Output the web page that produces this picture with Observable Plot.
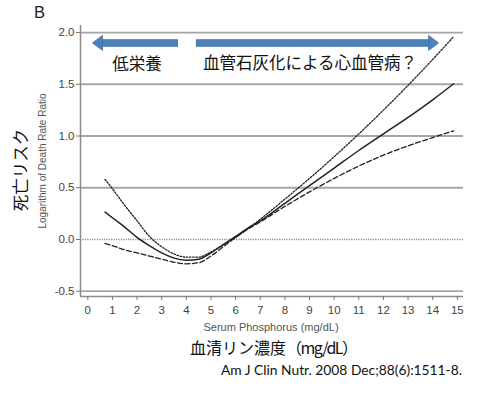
<!DOCTYPE html>
<html>
<head>
<meta charset="utf-8">
<script src="https://cdn.jsdelivr.net/npm/d3@7"></script>
<script src="https://cdn.jsdelivr.net/npm/@observablehq/plot@0.6"></script>
<style>
  html, body { margin: 0; padding: 0; background: #fff; }
  #wrap { position: relative; width: 480px; height: 393px; overflow: hidden; }
  #wrap svg { position: absolute; left: 0; top: 0; }
  .lbl { position: absolute; white-space: nowrap; line-height: 1; }
</style>
</head>
<body>
<div id="wrap">
  <div class="lbl" id="panel" style="left:34px; top:3px; font: 16.5px 'Liberation Sans', Arial, sans-serif; color:#222;">B</div>
  <div class="lbl" id="ylabJa" style="left:20px; top:170px; transform: translate(-50%,-50%) rotate(-90deg); font: 16.5px 'Noto Sans CJK JP', sans-serif; color:#111;">死亡リスク</div>
  <div class="lbl" id="ylabEn" style="left:42px; top:161px; transform: translate(-50%,-50%) rotate(-90deg); font: 10px 'Liberation Sans', Arial, sans-serif; color:#555;">Logarithm of Death Rate Ratio</div>
  <div class="lbl" id="xlabEn" style="left:271px; top:327px; transform: translate(-50%,-50%); font: 11px 'Liberation Sans', Arial, sans-serif; color:#555;">Serum Phosphorus (mg/dL)</div>
  <div class="lbl" id="xlabJa" style="left:190px; top:347px; transform: translateY(-50%); font: 16px 'Noto Sans CJK JP', sans-serif; color:#111;">血清リン濃度<span style="letter-spacing:-1.5px">（mg/dL）</span></div>
  <div class="lbl" id="cite" style="right:18px; top:369px; transform: translateY(-50%); font: 13.8px Lato, 'Open Sans', sans-serif; color:#111;">Am J Clin Nutr. 2008 Dec;88(6):1511-8.</div>
</div>
<script>
// ---- data ----
const phosphorus = [0.7, 1, 1.5, 2, 2.5, 3, 3.5, 4, 4.5, 5, 5.5, 6, 6.5, 7, 8, 9, 10, 11, 12, 13, 14, 14.85];
const estimate   = [0.265, 0.21, 0.12, 0.02, -0.06, -0.13, -0.18, -0.20, -0.19, -0.13, -0.05, 0.03, 0.11, 0.18, 0.35, 0.52, 0.69, 0.86, 1.02, 1.18, 1.35, 1.505];
const upperCI    = [0.58, 0.49, 0.33, 0.18, 0.03, -0.07, -0.14, -0.17, -0.17, -0.12, -0.05, 0.02, 0.105, 0.195, 0.39, 0.59, 0.80, 1.02, 1.25, 1.49, 1.74, 1.96];
const lowerCI    = [-0.04, -0.06, -0.10, -0.13, -0.16, -0.19, -0.22, -0.235, -0.225, -0.16, -0.07, 0.02, 0.10, 0.17, 0.32, 0.46, 0.59, 0.71, 0.815, 0.905, 0.985, 1.05];

const xTicks = d3.range(0, 16);
const yTicks = [-0.5, 0, 0.5, 1.0, 1.5, 2.0];
const gridValues = [-0.5, 0.5, 1.0, 1.5, 2.0];
const zeroLine = [0];
const xDomain = [-0.296, 15.25];
const yDomain = [-0.551, 2.068];

// annotation arrows (data units): tail -> tip
const arrowTail = [3.68, 4.41];
const arrowTip  = [0.19, 14.24];
const arrowY    = [1.9, 1.9];
const noteText  = ["低栄養", "血管石灰化による心血管病？"];
const noteX     = [2.0, 9.02];
const noteY     = [1.69, 1.70];

// ---- build ----
const rows = phosphorus.map((x, i) => ({x, est: estimate[i], up: upperCI[i], lo: lowerCI[i]}));
const arrows = arrowTail.map((t, i) => ({
  left: Math.min(t, arrowTip[i]), right: Math.max(t, arrowTip[i]),
  tip: arrowTip[i], y: arrowY[i], dir: arrowTip[i] < t ? 180 : 0
}));
const notes = noteText.map((t, i) => ({text: t, x: noteX[i], y: noteY[i]}));

// arrowhead symbol: tip at the origin, pointing right
const headSymbol = {
  draw(ctx) {
    ctx.moveTo(0, 0);
    ctx.lineTo(-10, -7.5);
    ctx.lineTo(-10, 7.5);
    ctx.closePath();
  }
};

const blue = "#4f81bd";
const arrowMarks = arrows.flatMap(a => [
  Plot.ruleY([a], {x1: "left", x2: "right", y: "y", stroke: "#41719c", strokeWidth: 7.5,
    insetLeft: a.dir === 180 ? 9 : 0, insetRight: a.dir === 0 ? 9 : 0}),
  Plot.ruleY([a], {x1: "left", x2: "right", y: "y", stroke: blue, strokeWidth: 5.8,
    insetLeft: a.dir === 180 ? 9 : 0.6, insetRight: a.dir === 0 ? 9 : 0.6}),
  Plot.dot([a], {x: "tip", y: "y", symbol: headSymbol, fill: blue, stroke: "#41719c", strokeWidth: 0.8, rotate: a.dir, r: 5})
]);

const chart = Plot.plot({
  width: 480,
  height: 393,
  marginTop: 25,
  marginBottom: 97,
  marginLeft: 80,
  marginRight: 17,
  x: {domain: xDomain},
  y: {domain: yDomain},
  style: {fontFamily: "'Liberation Sans', Arial, sans-serif", fontSize: "11px", color: "#555", background: "transparent"},
  marks: [
    Plot.ruleY(gridValues, {stroke: "#a6a6a6", strokeWidth: 1.8}),
    Plot.ruleY(zeroLine, {stroke: "#8c8c8c", strokeWidth: 1.5, strokeDasharray: "1.2,1.2"}),
    Plot.ruleX([xDomain[0]], {stroke: "#8c8c8c", strokeWidth: 1.5}),
    Plot.ruleY([yDomain[0]], {stroke: "#8c8c8c", strokeWidth: 1.5}),
    Plot.axisX({ticks: xTicks, tickSize: 4, tickPadding: 5, label: null, stroke: "#777", fill: "#444", fontSize: 11.5}),
    Plot.axisY({ticks: yTicks, tickSize: 4, tickPadding: 2, label: null, tickFormat: d => d.toFixed(1), stroke: "#777", fill: "#444", fontSize: 11.5}),
    Plot.line(rows, {x: "x", y: "up", curve: "monotone-x", stroke: "#222", strokeWidth: 1.3, strokeDasharray: "1.6,1.6"}),
    Plot.line(rows, {x: "x", y: "lo", curve: "monotone-x", stroke: "#222", strokeWidth: 1.3, strokeDasharray: "5,2.5"}),
    Plot.line(rows, {x: "x", y: "est", curve: "monotone-x", stroke: "#222", strokeWidth: 1.5}),
    ...arrowMarks,
    Plot.text(notes, {x: "x", y: "y", text: "text", fontFamily: "'Noto Sans CJK JP', sans-serif", fontSize: 16.5, fill: "#111"})
  ]
});
document.getElementById("wrap").prepend(chart);
</script>
</body>
</html>
